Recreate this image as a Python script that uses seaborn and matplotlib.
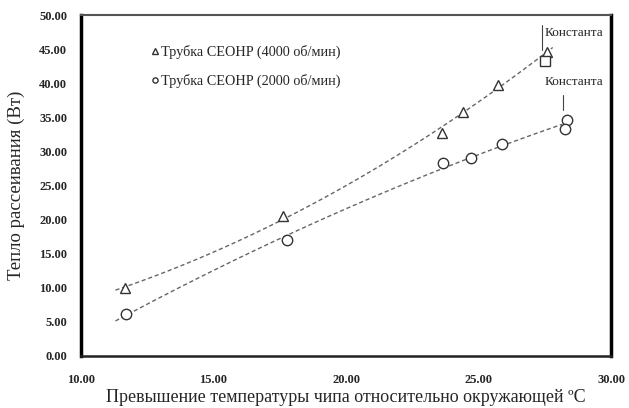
import numpy as np
import pandas as pd
import seaborn as sns
import matplotlib.pyplot as plt

# data
x_4000 = [11.66, 17.62, 23.61, 24.43, 25.72, 27.57]
y_4000 = [10.0, 20.5, 32.7, 35.8, 39.7, 44.6]
x_2000 = [11.70, 17.79, 23.67, 24.72, 25.87, 28.33, 28.28]
y_2000 = [6.2, 17.0, 28.3, 29.0, 31.1, 34.6, 33.3]
x_extra = [27.50]
y_extra = [43.2]

label_4000 = "Трубка CEOHP (4000 об/мин)"
label_2000 = "Трубка CEOHP (2000 об/мин)"
xticks = [10, 15, 20, 25, 30]
yticks = [0, 5, 10, 15, 20, 25, 30, 35, 40, 45, 50]

df1 = pd.DataFrame({"x": x_4000, "y": y_4000})
df2 = pd.DataFrame({"x": x_2000, "y": y_2000})

sns.set_style("white")
plt.rcParams["font.family"] = ["Liberation Serif", "DejaVu Serif"]

fig = plt.figure(figsize=(6.29, 4.08), dpi=100)
ax = fig.add_axes([0.1288, 0.1275, 0.8426, 0.8355])

# trend lines (span of each trend line set through the x limits)
line_kw = dict(color="#666666", lw=1.0, ls=(0, (3, 2)))
ax.set_xlim(11.3, 27.8)
sns.regplot(data=df1, x="x", y="y", order=2, ci=None, scatter=False,
            truncate=False, line_kws=line_kw, ax=ax)
ax.set_xlim(11.3, 28.15)
sns.regplot(data=df2, x="x", y="y", order=2, ci=None, scatter=False,
            truncate=False, line_kws=line_kw, ax=ax)

# points
ax.plot(x_4000, y_4000, ls="none", marker="^", ms=7.5, mfc="white",
        mec="#333333", mew=1.0, label=label_4000)
ax.plot(x_2000, y_2000, ls="none", marker="o", ms=7.5, mfc="white",
        mec="#333333", mew=1.0, label=label_2000)
ax.plot(x_extra, y_extra, ls="none", marker="s", ms=6.5, mfc="white",
        mec="#333333", mew=1.0)

ax.set_xlim(10, 30)
ax.set_ylim(0, 50)
ax.set_xticks(xticks)
ax.set_yticks(yticks)
ax.set_xticklabels([f"{v:.2f}" for v in xticks], fontsize=9, fontweight="bold")
ax.set_yticklabels([f"{v:.2f}" for v in yticks], fontsize=9, fontweight="bold")
ax.tick_params(axis="both", direction="out", length=4, width=1.2, color="black")
ax.tick_params(axis="x", pad=9)
ax.tick_params(axis="y", pad=6)

ax.set_xlabel("Превышение температуры чипа относительно окружающей ºC", fontsize=13, labelpad=2)
ax.set_ylabel("Тепло рассеивания (Вт)", fontsize=13.5, labelpad=10)

for side, lw, col in [("left", 2.5, "black"), ("right", 2.5, "black"),
                      ("bottom", 1.8, "#222222"), ("top", 1.5, "#555555")]:
    ax.spines[side].set_linewidth(lw)
    ax.spines[side].set_color(col)

# annotations
ax.plot([27.4, 27.4], [44.9, 48.6], color="#444444", lw=0.8)
ax.text(27.5, 47.4, "Константа", fontsize=9.5, va="center", ha="left")
ax.plot([28.19, 28.19], [36.1, 38.3], color="#444444", lw=0.8)
ax.text(27.5, 40.2, "Константа", fontsize=9.5, va="center", ha="left")

ax.legend(loc="upper left", bbox_to_anchor=(0.122, 0.93), frameon=False,
          fontsize=10.3, markerscale=0.5, handlelength=0.5, handletextpad=0.15,
          labelspacing=1.05, borderaxespad=0)

fig.savefig("out.png", dpi=100)
